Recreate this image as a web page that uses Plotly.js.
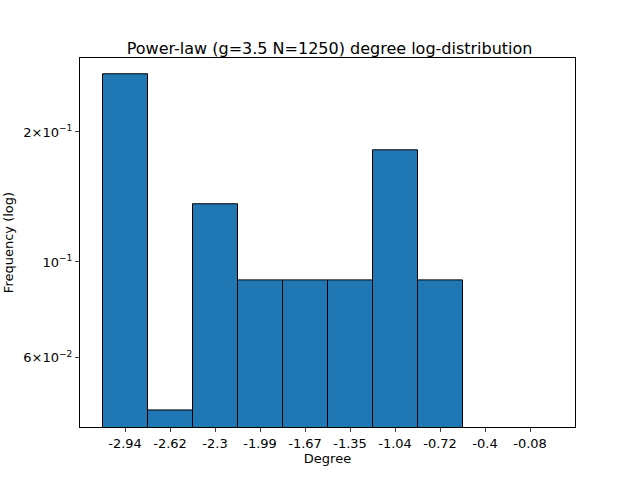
<!DOCTYPE html>
<html>
<head>
<script src="https://cdn.plot.ly/plotly-3.0.1.min.js"></script>
<style>body{margin:0}</style>
</head>
<body>
<div id="myDiv" style="width:640px;height:480px"></div>
<script>
var binLabels = ['-2.94','-2.62','-2.3','-1.99','-1.67','-1.35','-1.04','-0.72','-0.4','-0.08'];
var freqs = [0.2727, 0.04545, 0.1364, 0.0909, 0.0909, 0.0909, 0.1818, 0.0909, 0, 0];
var yTickVals = [0.06, 0.1, 0.2];
var yTickText = ['6\u00d710<sup>\u22122</sup>', '10<sup>\u22121</sup>', '2\u00d710<sup>\u22121</sup>'];

var idx = binLabels.map(function(_, i){ return i; });
var xs = [], ys = [];
for (var i = 0; i < freqs.length; i++) {
    if (freqs[i] > 0) { xs.push(idx[i]); ys.push(freqs[i]); }
}

var data = [{
    type: 'bar',
    x: xs,
    y: ys,
    width: 1,
    marker: {color: '#1f77b4', line: {color: '#000', width: 1}}
}];

var layout = {
    width: 640, height: 480,
    margin: {l: 80, r: 65, t: 58, b: 53},
    font: {family: 'DejaVu Sans', size: 13, color: '#000'},
    paper_bgcolor: '#fff', plot_bgcolor: '#fff',
    showlegend: false,
    title: {text: 'Power-law (g=3.5 N=1250) degree log-distribution', font: {size: 16}, x: 0.515, y: 0.91, xanchor: 'center'},
    xaxis: {
        range: [-1, 10],
        tickvals: idx, ticktext: binLabels,
        ticks: 'outside', ticklen: 4, showgrid: false, zeroline: false,
        showline: true, mirror: true, linecolor: '#000',
        title: {text: 'Degree', font: {size: 13}, standoff: 4}
    },
    yaxis: {
        type: 'log',
        range: [Math.log10(0.0415), Math.log10(0.2966)],
        tickvals: yTickVals, ticktext: yTickText,
        ticks: 'outside', ticklen: 4, showgrid: false, zeroline: false,
        showline: true, mirror: true, linecolor: '#000',
        title: {text: 'Frequency (log)', font: {size: 13}, standoff: 6}
    }
};

Plotly.newPlot('myDiv', data, layout, {displayModeBar: false});
</script>
</body>
</html>
